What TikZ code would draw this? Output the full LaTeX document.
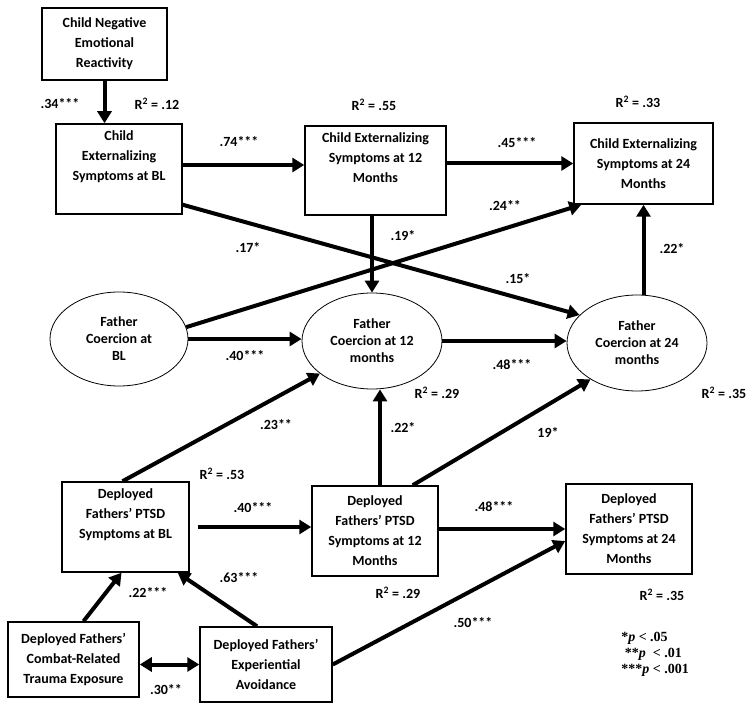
\documentclass[tikz,border=0pt]{standalone}
\usepackage{fontspec}
\setmainfont{Carlito}
\newfontfamily\legendfont{Liberation Serif}
\usetikzlibrary{arrows.meta,positioning,calc,shapes.geometric}

\tikzset{
  varbox/.style={draw,line width=1.5pt,align=center,inner sep=0pt,
    font=\bfseries\fontsize{14}{20}\selectfont},
  latent/.style={draw,ellipse,line width=0.8pt,align=center,inner sep=0pt,
    minimum width=140pt,minimum height=96pt,font=\bfseries\fontsize{14}{17}\selectfont},
  effect/.style={line width=4pt,-{Triangle[length=12pt,width=14pt]}},
  coef/.style={font=\bfseries\fontsize{14}{16}\selectfont}
}

\begin{document}
\begin{tikzpicture}[x=1pt,y=-1pt]
  \useasboundingbox (0,0) rectangle (754,711);

  % observed variables
  \node[varbox,minimum width=125pt,minimum height=72pt] (neg) at (104.5,44) {Child Negative\\Emotional\\Reactivity};
  \node[varbox,minimum width=126pt,minimum height=90pt] (cbl) at (119,169) {Child\\Externalizing\\Symptoms at BL\\\strut};
  \node[varbox,minimum width=141pt,minimum height=89pt] (c12) at (375.5,170.5) {Child Externalizing\\Symptoms at 12\\Months\\\strut};
  \node[varbox,minimum width=139pt,minimum height=81pt] (c24) at (643.5,163.5) {Child Externalizing\\Symptoms at 24\\Months};
  \node[varbox,minimum width=127pt,minimum height=90pt] (pbl) at (125.5,527) {Deployed\\Fathers' PTSD\\Symptoms at BL\\\strut};
  \node[varbox,minimum width=126pt,minimum height=90pt] (p12) at (375,531) {Deployed\\Fathers' PTSD\\Symptoms at 12\\Months};
  \node[varbox,minimum width=126pt,minimum height=90pt] (p24) at (629,529) {Deployed\\Fathers' PTSD\\Symptoms at 24\\Months};
  \node[varbox,minimum width=131pt,minimum height=75pt] (combat) at (73.5,659.5) {Deployed Fathers'\\Combat-Related\\Trauma Exposure};
  \node[varbox,minimum width=132pt,minimum height=75pt] (avoid) at (266,664.5) {Deployed Fathers'\\Experiential\\Avoidance};

  % latent coercion
  \node[latent,minimum width=138pt,minimum height=94pt] (fbl) at (119,339) {Father\\Coercion at\\BL};
  \node[latent] (f12) at (372,341) {Father\\Coercion at 12\\months};
  \node[latent] (f24) at (637,343) {Father\\Coercion at 24\\months};

  % paths
  \draw[effect] (neg.south) -- (neg.south |- cbl.north);
  \draw[effect] ([yshift=4pt]cbl.east) -- ([yshift=4pt]cbl.east -| c12.west);
  \draw[effect] (c12.east |- c24.west) -- (c24.west);
  \draw[effect] (c12.south -| f12.north) -- (f12.north);
  \draw[effect] ([yshift=10pt]cbl.south east) -- (f24.154);
  \draw[effect] (fbl.10) -- ([xshift=8pt]c24.south west);
  \draw[effect] (fbl.east) -- (fbl.east -| f12.west);
  \draw[effect] (f12.east) -- (f12.east -| f24.west);
  \draw[effect] (c24.south |- f24.north) -- (c24.south);
  \draw[effect] ([xshift=-3pt]pbl.north) -- (f12.212);
  \draw[effect] ([xshift=5pt]p12.north) -- ([xshift=5pt]p12.north |- f12.south);
  \draw[effect] ([xshift=-26pt]p12.north east) -- (f24.218);
  \draw[effect,shorten <=8pt] (pbl.east) -- (pbl.east -| p12.west);
  \draw[effect] (p12.east |- p24.west) -- (p24.west);
  \draw[effect] ([xshift=10pt]combat.north) -- ([xshift=-4pt]pbl.south);
  \draw[effect] ([xshift=-9pt]avoid.north) -- ([xshift=-12pt]pbl.south east);
  \draw[line width=4pt,{Triangle[length=12pt,width=14pt]}-{Triangle[length=12pt,width=14pt]}] (combat.east |- avoid.west) -- (avoid.west);
  \draw[effect] (avoid.east) -- ([yshift=-12pt]p24.west);

  % coefficients
  \node[coef] (k34) at (60,104) {.34***};
  \node[coef] (k74) at (239,142) {.74***};
  \node[coef] (k45) at (517,143) {.45***};
  \node[coef] (k24) at (505,206) {.24**};
  \node[coef] (k19a) at (403,236) {.19*};
  \node[coef] (k17) at (248,248) {.17*};
  \node[coef] (k15) at (518,279) {.15*};
  \node[coef] (k22a) at (672,249) {.22*};
  \node[coef] (k40a) at (245,356) {.40***};
  \node[coef] (k48a) at (512,365) {.48***};
  \node[coef] (k23) at (276,425) {.23**};
  \node[coef] (k22b) at (403,428) {.22*};
  \node[coef] (k19b) at (548,432) {19*};
  \node[coef] (k40b) at (253,508) {.40***};
  \node[coef] (k48b) at (494,507) {.48***};
  \node[coef] (k63) at (239,578) {.63***};
  \node[coef] (k22c) at (148,593) {.22***};
  \node[coef] (k30) at (166,690) {.30**};
  \node[coef] (k50) at (473,623) {.50***};

  % explained variance
  \node[coef] (r12) at (157,104) {R\textsuperscript{2} = .12};
  \node[coef] (r55) at (374,105) {R\textsuperscript{2} = .55};
  \node[coef] (r33) at (638,102) {R\textsuperscript{2} = .33};
  \node[coef] (r29a) at (437,393) {R\textsuperscript{2} = .29};
  \node[coef] (r35a) at (724,393) {R\textsuperscript{2} = .35};
  \node[coef] (r53) at (222,474) {R\textsuperscript{2} = .53};
  \node[coef] (r29b) at (398,593) {R\textsuperscript{2} = .29};
  \node[coef] (r35b) at (662,595) {R\textsuperscript{2} = .35};

  % significance legend
  \node[align=left,font=\legendfont\bfseries\fontsize{14}{16}\selectfont] (legend) at (655,654)
    {*\textit{p} < .05\\ \ **\textit{p}\ \ < .01\\***\textit{p} < .001};
\end{tikzpicture}
\end{document}
